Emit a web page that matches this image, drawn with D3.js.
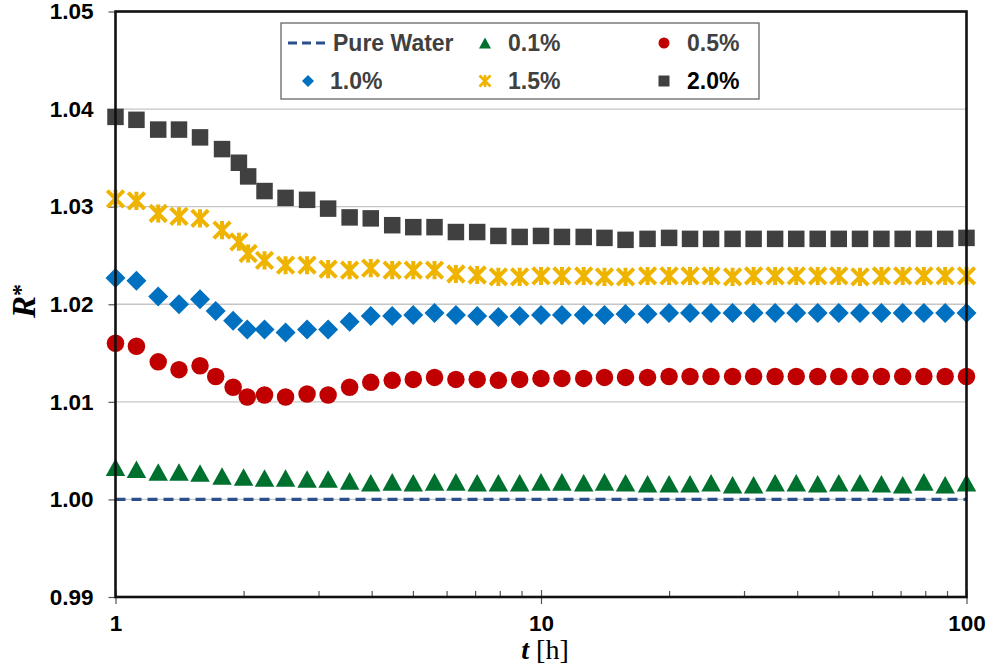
<!DOCTYPE html>
<html><head><meta charset="utf-8">
<script src="https://cdn.jsdelivr.net/npm/d3@7"></script>
<style>body{margin:0;background:#fff}svg{display:block}</style>
</head><body>
<svg id="chart" width="990" height="670"></svg>
<script>
// ---------- DATA ----------
const tPure = [1, 100];
const rPure = [1.0, 1.0];

const tC = [1, 1.12, 1.26, 1.41, 1.58, 1.78, 2.0, 2.24, 2.51, 2.82, 3.16, 3.55, 3.98, 4.47, 5.01, 5.62, 6.31, 7.08, 7.94, 8.91,
  10, 11.2, 12.6, 14.1, 15.8, 17.8, 20, 22.4, 25.1, 28.2, 31.6, 35.5, 39.8, 44.7, 50.1, 56.2, 63.1, 70.8, 79.4, 89.1, 100];
const r01 = [1.0033, 1.0031, 1.0028, 1.0028, 1.0027, 1.0024, 1.0023, 1.0022, 1.0022, 1.0021, 1.0021, 1.0019, 1.0017, 1.0018,
  1.0017, 1.0018, 1.0018, 1.0017, 1.0017, 1.0017, 1.0018, 1.0018, 1.0017, 1.0018, 1.0017, 1.0016, 1.0016, 1.0016, 1.0017,
  1.0015, 1.0015, 1.0017, 1.0017, 1.0016, 1.0017, 1.0017, 1.0016, 1.0015, 1.0018, 1.0015, 1.0017];

const tB = [1, 1.12, 1.26, 1.41, 1.58, 1.72, 1.89, 2.04, 2.24, 2.51, 2.82, 3.16, 3.55, 3.98, 4.47, 5.01, 5.62, 6.31, 7.08, 7.94, 8.91,
  10, 11.2, 12.6, 14.1, 15.8, 17.8, 20, 22.4, 25.1, 28.2, 31.6, 35.5, 39.8, 44.7, 50.1, 56.2, 63.1, 70.8, 79.4, 89.1, 100];
const r05 = [1.0160, 1.0157, 1.0141, 1.0133, 1.0137, 1.0126, 1.0115, 1.0105, 1.0107, 1.0105, 1.0108, 1.0107, 1.0115,
  1.0120, 1.0122, 1.0123, 1.0125, 1.0123, 1.0123, 1.0122, 1.0123, 1.0124, 1.0124, 1.0124, 1.0125, 1.0125, 1.0125,
  1.0126, 1.0126, 1.0126, 1.0126, 1.0126, 1.0126, 1.0126, 1.0126, 1.0126, 1.0126, 1.0126, 1.0126, 1.0126, 1.0126, 1.0126];
const r10 = [1.0227, 1.0224, 1.0208, 1.0200, 1.0205, 1.0193, 1.0183, 1.0174, 1.0174, 1.0171, 1.0174, 1.0174, 1.0182,
  1.0188, 1.0188, 1.0189, 1.0191, 1.0189, 1.0188, 1.0187, 1.0188, 1.0189, 1.0189, 1.0189, 1.0189, 1.0190, 1.0190,
  1.0191, 1.0191, 1.0191, 1.0191, 1.0191, 1.0191, 1.0191, 1.0191, 1.0191, 1.0191, 1.0191, 1.0191, 1.0191, 1.0191, 1.0191];

const tA = [1, 1.12, 1.26, 1.41, 1.58, 1.78, 1.95, 2.05, 2.24, 2.51, 2.82, 3.16, 3.55, 3.98, 4.47, 5.01, 5.62, 6.31, 7.08, 7.94, 8.91,
  10, 11.2, 12.6, 14.1, 15.8, 17.8, 20, 22.4, 25.1, 28.2, 31.6, 35.5, 39.8, 44.7, 50.1, 56.2, 63.1, 70.8, 79.4, 89.1, 100];
const r15 = [1.0308, 1.0306, 1.0293, 1.0290, 1.0288, 1.0276, 1.0264, 1.0252, 1.0245, 1.0240, 1.0240, 1.0236, 1.0235,
  1.0237, 1.0235, 1.0235, 1.0235, 1.0231, 1.0230, 1.0228, 1.0228, 1.0229, 1.0229, 1.0229, 1.0228, 1.0228, 1.0229,
  1.0229, 1.0229, 1.0229, 1.0228, 1.0229, 1.0229, 1.0229, 1.0229, 1.0229, 1.0228, 1.0229, 1.0229, 1.0229, 1.0229, 1.0229];
const r20 = [1.0392, 1.0389, 1.0379, 1.0379, 1.0371, 1.0359, 1.0345, 1.0331, 1.0316, 1.0309, 1.0307, 1.0298, 1.0289,
  1.0288, 1.0281, 1.0279, 1.0279, 1.0274, 1.0274, 1.0270, 1.0269, 1.0270, 1.0269, 1.0269, 1.0268, 1.0266, 1.0267,
  1.0268, 1.0267, 1.0267, 1.0267, 1.0267, 1.0267, 1.0267, 1.0267, 1.0267, 1.0267, 1.0267, 1.0267, 1.0267, 1.0267, 1.0268];

const yTicks = [0.99, 1.00, 1.01, 1.02, 1.03, 1.04, 1.05];
const xMajor = [1, 10, 100];
const xMinor = [2, 3, 4, 5, 6, 7, 8, 9, 20, 30, 40, 50, 60, 70, 80, 90];

const legendLabels = ["Pure Water", "0.1%", "0.5%", "1.0%", "1.5%", "2.0%"];

// ---------- CHART ----------
const svg = d3.select("#chart");
const L = 115.5, R = 966.5, T = 11.5, B = 597;
const x = d3.scaleLog().domain([1, 100]).range([L, R]);
const y = d3.scaleLinear().domain([0.99, 1.05]).range([B, T]);

const sans = "'Liberation Sans', Arial, Helvetica, sans-serif";
const serif = "'Liberation Serif', 'Times New Roman', serif";

// gridlines
svg.append("g").selectAll("line").data(yTicks).join("line")
  .attr("x1", L).attr("x2", R).attr("y1", d => y(d)).attr("y2", d => y(d))
  .attr("stroke", "#c6c6c6").attr("stroke-width", 1.3);

// y axis
const yAxis = svg.append("g").attr("transform", `translate(${L},0)`)
  .call(d3.axisLeft(y).tickValues(yTicks).tickFormat(d3.format(".2f")).tickSize(7).tickPadding(15));
yAxis.select(".domain").remove();
yAxis.selectAll(".tick line").attr("stroke", "#555").attr("stroke-width", 1.2);
yAxis.selectAll("text").attr("font-family", sans).attr("font-weight", "bold").attr("font-size", 22.5).attr("fill", "#000");

// x axis major
const xAxis = svg.append("g").attr("transform", `translate(0,${B})`)
  .call(d3.axisBottom(x).tickValues(xMajor).tickFormat(d3.format("d")).tickSize(7).tickPadding(11));
xAxis.select(".domain").remove();
xAxis.selectAll(".tick line").attr("stroke", "#555").attr("stroke-width", 1.2).attr("y1", -7);
xAxis.selectAll("text").attr("font-family", sans).attr("font-weight", "bold").attr("font-size", 22.5).attr("fill", "#000");

// x axis minor (inward)
const xMin = svg.append("g").attr("transform", `translate(0,${B})`)
  .call(d3.axisBottom(x).tickValues(xMinor).tickFormat("").tickSize(-6));
xMin.select(".domain").remove();
xMin.selectAll(".tick line").attr("stroke", "#555").attr("stroke-width", 1.2);

// pure water dashed line
svg.append("path")
  .datum(tPure.map((t, i) => [t, rPure[i]]))
  .attr("d", d3.line().x(d => x(d[0])).y(d => y(d[1])))
  .attr("fill", "none").attr("stroke", "#2B4F8C").attr("stroke-width", 3.2)
  .attr("stroke-dasharray", "10,6");

// marker shapes
function triPath(s) { const h = s * 0.9, w = s; return `M0,${-h/2}L${w/2},${h/2}L${-w/2},${h/2}Z`; }
function diaPath(s) { const h = s / 2; return `M0,${-h}L${h},0L0,${h}L${-h},0Z`; }
function sqPath(s) { const h = s / 2; return `M${-h},${-h}H${h}V${h}H${-h}Z`; }
function starPath(s) { const h = s / 2; return `M${-h},${-h}L${h},${h}M${-h},${h}L${h},${-h}M0,${-h*1.1}L0,${h*1.1}`; }

const series = [
  { t: tC, r: r01, color: "#00702F", shape: "tri", size: 19.5 },
  { t: tB, r: r05, color: "#C00000", shape: "circle", size: 17.5 },
  { t: tB, r: r10, color: "#0070C0", shape: "dia", size: 20 },
  { t: tA, r: r15, color: "#EEB400", shape: "star", size: 16.5 },
  { t: tA, r: r20, color: "#404040", shape: "sq", size: 16.5 }
];

function drawMarker(g, shape, size, color) {
  if (shape === "circle") return g.append("circle").attr("r", size / 2).attr("fill", color);
  if (shape === "star") return g.append("path").attr("d", starPath(size)).attr("fill", "none")
    .attr("stroke", color).attr("stroke-width", size * 0.24);
  const p = shape === "tri" ? triPath(size) : shape === "dia" ? diaPath(size) : sqPath(size);
  return g.append("path").attr("d", p).attr("fill", color);
}

series.forEach(s => {
  const g = svg.append("g");
  s.t.forEach((t, i) => {
    const m = g.append("g").attr("transform", `translate(${x(t)},${y(s.r[i])})`);
    drawMarker(m, s.shape, s.size, s.color);
  });
});

// frame
svg.append("rect").attr("x", L).attr("y", T).attr("width", R - L).attr("height", B - T)
  .attr("fill", "none").attr("stroke", "#111").attr("stroke-width", 2.6);

// axis titles
svg.append("text").attr("x", 545).attr("y", 659).attr("text-anchor", "middle")
  .attr("font-family", serif).attr("font-size", 28)
  .call(tx => {
    tx.append("tspan").attr("font-style", "italic").attr("font-weight", "bold").text("t");
    tx.append("tspan").text(" [h]");
  });
svg.append("text").attr("transform", "translate(35,301) rotate(-90)").attr("text-anchor", "middle")
  .attr("font-family", serif).attr("font-size", 33).attr("font-weight", "bold").attr("font-style", "italic")
  .call(tx => {
    tx.append("tspan").text("R");
    tx.append("tspan").attr("font-size", 24).attr("dy", -7).attr("font-style", "normal").text("*");
  });

// legend
const lg = svg.append("g");
lg.append("rect").attr("x", 281).attr("y", 23).attr("width", 478).attr("height", 76)
  .attr("fill", "#fff").attr("stroke", "#666").attr("stroke-width", 1.3);
const legendItems = [
  { label: legendLabels[0], shape: "line", color: "#2B4F8C", mx: 308, tx: 333, cy: 43, tc: "#404040" },
  { label: legendLabels[1], shape: "tri", color: "#00702F", mx: 485, tx: 508, cy: 43, tc: "#404040", size: 12 },
  { label: legendLabels[2], shape: "circle", color: "#C00000", mx: 664, tx: 687, cy: 43, tc: "#404040", size: 11 },
  { label: legendLabels[3], shape: "dia", color: "#0070C0", mx: 308, tx: 330, cy: 81, tc: "#404040", size: 12 },
  { label: legendLabels[4], shape: "star", color: "#EEB400", mx: 485, tx: 508, cy: 81, tc: "#404040", size: 11 },
  { label: legendLabels[5], shape: "sq", color: "#404040", mx: 664, tx: 687, cy: 81, tc: "#000", size: 11 }
];
legendItems.forEach(it => {
  if (it.shape === "line") {
    lg.append("line").attr("x1", 288).attr("x2", 328).attr("y1", it.cy).attr("y2", it.cy)
      .attr("stroke", it.color).attr("stroke-width", 3).attr("stroke-dasharray", "9,5");
  } else {
    const m = lg.append("g").attr("transform", `translate(${it.mx},${it.cy})`);
    drawMarker(m, it.shape, it.size, it.color);
  }
  lg.append("text").attr("x", it.tx).attr("y", it.cy + 8)
    .attr("font-family", sans).attr("font-weight", "bold").attr("font-size", 23)
    .attr("fill", it.tc).text(it.label);
});
</script>
</body></html>
